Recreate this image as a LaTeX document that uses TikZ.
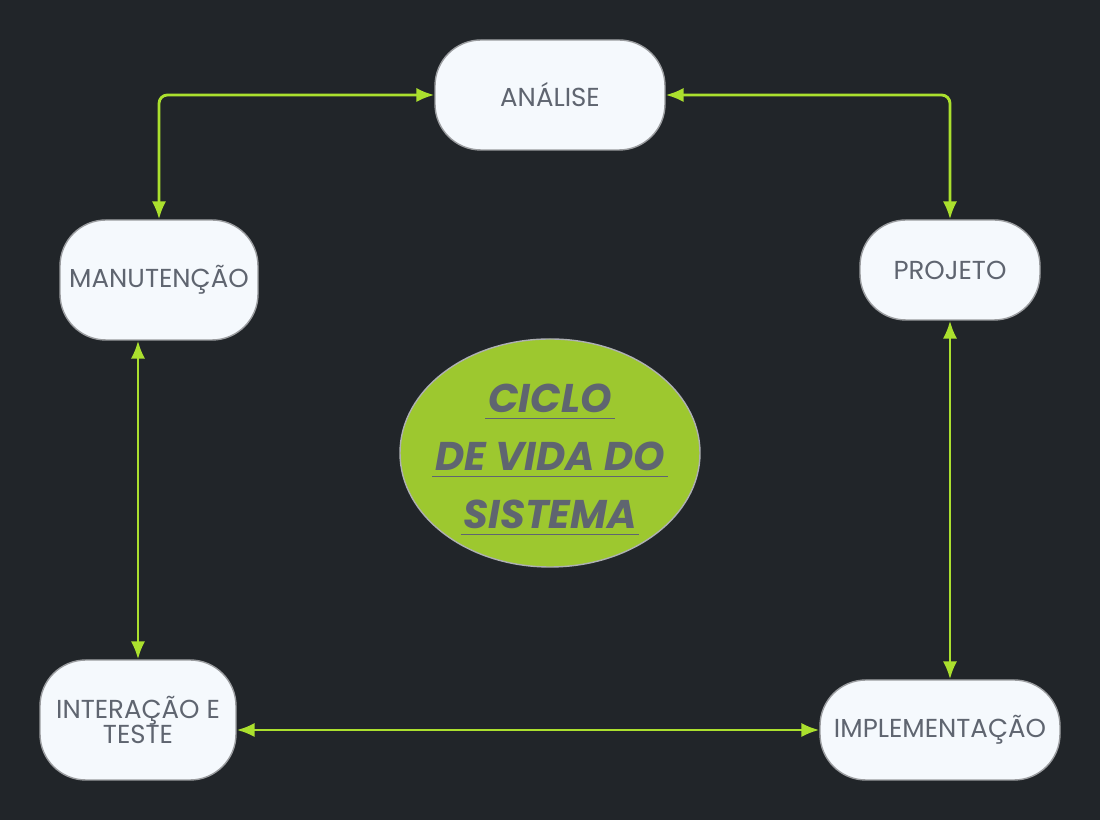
\documentclass[tikz,border=0pt]{standalone}
\usepackage{fontspec}
\setmainfont{Poppins}
\usetikzlibrary{arrows.meta,positioning,calc,shapes.geometric}
\definecolor{Fundo}{HTML}{212529}
\definecolor{VerdeSeta}{HTML}{ABE02E}
\definecolor{VerdeCiclo}{HTML}{9DC82F}
\definecolor{CinzaTexto}{HTML}{5F6570}
\definecolor{CinzaBorda}{HTML}{9A9C9F}
\definecolor{Claro}{HTML}{F5F9FD}
% linha fina por baixo de cada linha do titulo
\newcommand{\sublinha}[1]{\setbox0\hbox{#1}%
  \raisebox{-4.5pt}[\height][\depth]{%
    \rlap{\kern-2pt\rule[-4.5pt]{\dimexpr\wd0+4pt\relax}{0.6pt}}\box0}}

\begin{document}
\begin{tikzpicture}[
        fase/.style={draw=CinzaBorda,fill=Claro,line width=1pt,
          rounded corners=1.15cm,align=center,text=CinzaTexto,
          font=\fontsize{18.5}{18}\selectfont,inner sep=2pt},
        ciclo/.style={ellipse,draw=CinzaBorda!80,fill=VerdeCiclo,line width=1pt,
          minimum width=7.5cm,minimum height=5.7cm,inner sep=-0.3cm,
          align=center,text=CinzaTexto,
          font=\bfseries\itshape\fontsize{28.5}{41}\selectfont},
        seta/.style={{Latex[length=4.5mm,width=3.6mm]}-{Latex[length=4.5mm,width=3.6mm]},
          line width=2pt,draw=VerdeSeta,rounded corners=6pt}
      ]
        \fill[Fundo] (0,0) rectangle (27.5,20.5);
        \useasboundingbox (0,0) rectangle (27.5,20.5);

        \node[fase,minimum width=5.75cm,minimum height=2.75cm] (analise) at (13.75,18.125)
          {ANÁLISE};
        \node[fase,minimum width=4.95cm,minimum height=3cm] (manutencao) at (3.975,13.5)
          {MANUTENÇÃO};
        \node[fase,minimum width=4.5cm,minimum height=2.5cm] (projeto) at (23.75,13.75)
          {PROJETO};
        \node[fase,minimum width=4.9cm,minimum height=3cm] (interacao) at (3.45,2.5)
          {INTERAÇÃO E\\TESTE};
        \node[fase,minimum width=6cm,minimum height=2.5cm] (implementacao) at (23.5,2.25)
          {IMPLEMENTAÇÃO};

        \node[ciclo] (centro) at (13.75,9.175)
          {\sublinha{CICLO}\\\sublinha{DE VIDA DO}\\\sublinha{SISTEMA}};

        \draw[seta] (manutencao.north) |- (analise.west);
        \draw[seta] (analise.east) -| (projeto.north);
        \draw[seta] (projeto.south) -- (projeto.south |- implementacao.north);
        \draw[seta] (interacao.north |- manutencao.south) -- (interacao.north);
        \draw[seta] (implementacao.west -| interacao.east) -- (implementacao.west);
      \end{tikzpicture}
\end{document}
